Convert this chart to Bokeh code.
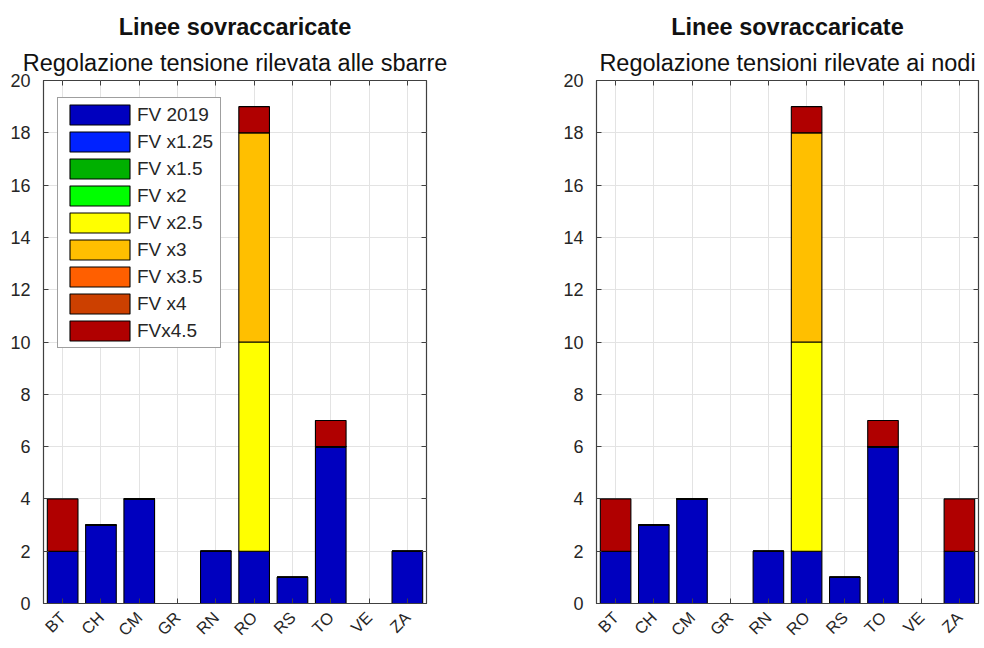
import math

from bokeh.embed import file_html
from bokeh.layouts import row
from bokeh.models import (CategoricalAxis, FactorRange, Legend, LinearAxis,
                          Range1d, SingleIntervalTicker, Title)
from bokeh.plotting import figure
from bokeh.resources import INLINE

# Regions (x categories)
regions = ["BT", "CH", "CM", "GR", "RN", "RO", "RS", "TO", "VE", "ZA"]

# Photovoltaic scenarios (stack order, bottom to top)
scenarios = ["FV 2019", "FV x1.25", "FV x1.5", "FV x2", "FV x2.5",
             "FV x3", "FV x3.5", "FV x4", "FVx4.5"]
colors = ["#0000BF", "#0022FF", "#00B000", "#00FF00", "#FFFF00",
          "#FFBF00", "#FF5F00", "#CC4000", "#B00000"]

# Overloaded lines per scenario - voltage regulation measured at busbars
bus_fv2019 = [2, 3, 4, 0, 2, 2, 1, 6, 0, 2]
bus_x125 = [0, 0, 0, 0, 0, 0, 0, 0, 0, 0]
bus_x15 = [0, 0, 0, 0, 0, 0, 0, 0, 0, 0]
bus_x2 = [0, 0, 0, 0, 0, 0, 0, 0, 0, 0]
bus_x25 = [0, 0, 0, 0, 0, 8, 0, 0, 0, 0]
bus_x3 = [0, 0, 0, 0, 0, 8, 0, 0, 0, 0]
bus_x35 = [0, 0, 0, 0, 0, 0, 0, 0, 0, 0]
bus_x4 = [0, 0, 0, 0, 0, 0, 0, 0, 0, 0]
bus_x45 = [2, 0, 0, 0, 0, 1, 0, 1, 0, 0]

# Overloaded lines per scenario - voltage regulation measured at nodes
node_fv2019 = [2, 3, 4, 0, 2, 2, 1, 6, 0, 2]
node_x125 = [0, 0, 0, 0, 0, 0, 0, 0, 0, 0]
node_x15 = [0, 0, 0, 0, 0, 0, 0, 0, 0, 0]
node_x2 = [0, 0, 0, 0, 0, 0, 0, 0, 0, 0]
node_x25 = [0, 0, 0, 0, 0, 8, 0, 0, 0, 0]
node_x3 = [0, 0, 0, 0, 0, 8, 0, 0, 0, 0]
node_x35 = [0, 0, 0, 0, 0, 0, 0, 0, 0, 0]
node_x4 = [0, 0, 0, 0, 0, 0, 0, 0, 0, 0]
node_x45 = [2, 0, 0, 0, 0, 1, 0, 1, 0, 2]

FONT = "Liberation Sans"
AXIS_COLOR = "#404040"
TEXT_COLOR = "#262626"
GRID_COLOR = "#E3E3E3"


def make_panel(series, subtitle, width, border_left, border_right, legend):
    keys = ["s%d" % i for i in range(len(series))]
    data = {"region": regions}
    for k, vals in zip(keys, series):
        data[k] = vals

    p = figure(width=width, height=648,
               x_range=FactorRange(factors=regions),
               y_range=Range1d(0, 20),
               output_backend="svg", toolbar_location=None,
               min_border_left=border_left, min_border_right=border_right,
               min_border_top=80, min_border_bottom=45,
               background_fill_color="white", border_fill_color="white")
    p.outline_line_color = AXIS_COLOR
    p.outline_line_width = 1.2

    renderers = p.vbar_stack(keys, x="region", width=0.8, source=data,
                             color=colors, line_color="black", line_width=1.1)

    # bottom / left axes
    for ax in (p.xaxis[0], p.yaxis[0]):
        ax.axis_line_color = AXIS_COLOR
        ax.major_tick_line_color = AXIS_COLOR
        ax.major_tick_in = 5
        ax.major_tick_out = 0
        ax.minor_tick_line_color = None
        ax.major_label_text_font = FONT
        ax.major_label_text_font_size = "18px"
        ax.major_label_text_color = TEXT_COLOR
    p.yaxis[0].ticker = SingleIntervalTicker(interval=2)
    p.yaxis[0].major_label_standoff = 9
    p.xaxis[0].major_label_orientation = math.pi / 4
    p.xaxis[0].major_label_standoff = 11
    p.xaxis[0].major_label_text_font_size = "16.5px"

    # tick marks on the top and right edges of the box
    top = CategoricalAxis(axis_line_color=None, major_tick_line_color=AXIS_COLOR,
                          major_tick_in=5, major_tick_out=0,
                          major_label_text_font_size="0px", major_label_standoff=0)
    right = LinearAxis(axis_line_color=None, major_tick_line_color=AXIS_COLOR,
                       major_tick_in=5, major_tick_out=0, minor_tick_line_color=None,
                       ticker=SingleIntervalTicker(interval=2),
                       major_label_text_font_size="0px", major_label_standoff=0)
    p.add_layout(top, "above")
    p.add_layout(right, "right")

    p.xgrid.grid_line_color = GRID_COLOR
    p.ygrid.grid_line_color = GRID_COLOR
    p.ygrid.ticker = SingleIntervalTicker(interval=2)

    p.add_layout(Title(text=subtitle, align="center", text_font=FONT,
                       text_font_size="23.5px", text_font_style="normal",
                       text_color="#111111", standoff=9), "above")
    p.add_layout(Title(text="Linee sovraccaricate", align="center", text_font=FONT,
                       text_font_size="23.5px", text_font_style="bold",
                       text_color="#111111", standoff=8), "above")

    if legend:
        leg = Legend(items=[(name, [r]) for name, r in zip(scenarios, renderers)],
                     location=(14, 255))
        leg.label_text_font = FONT
        leg.label_text_font_size = "19px"
        leg.label_text_color = TEXT_COLOR
        leg.glyph_width = 75
        leg.glyph_height = 25
        leg.label_height = 25
        leg.label_width = 79
        leg.label_standoff = 0
        leg.spacing = 2
        leg.padding = 4
        leg.margin = 0
        leg.border_line_color = AXIS_COLOR
        leg.border_line_width = 1
        leg.background_fill_alpha = 1
        p.add_layout(leg, "center")
    return p


left = make_panel([bus_fv2019, bus_x125, bus_x15, bus_x2, bus_x25,
                   bus_x3, bus_x35, bus_x4, bus_x45],
                  "Regolazione tensione rilevata alle sbarre",
                  492, 43, 66, True)
right = make_panel([node_fv2019, node_x125, node_x15, node_x2, node_x25,
                    node_x3, node_x35, node_x4, node_x45],
                   "Regolazione tensioni rilevate ai nodi",
                   492, 104, 6, False)

layout = row(left, right)
open("out.html", "w").write(file_html(layout, INLINE))
